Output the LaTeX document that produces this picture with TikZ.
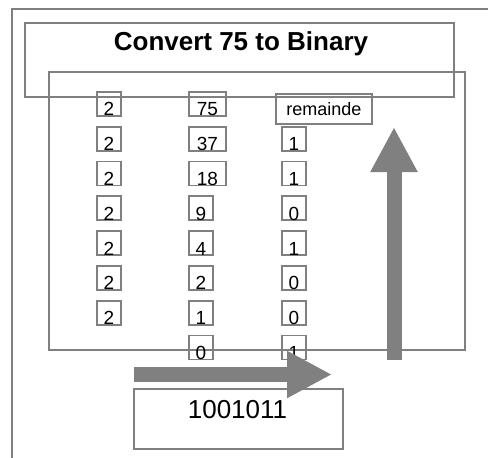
\documentclass[tikz,border=0pt]{standalone}
\usepackage{fontspec}
\setmainfont{Liberation Sans}
\usetikzlibrary{arrows.meta}

\begin{document}
\begin{tikzpicture}[x=1pt,y=-1pt,
  frame/.style={draw=gray,line width=1.8pt},
  numbox/.style={frame,inner sep=0pt,minimum width=24pt,text height=24pt,text depth=0pt,anchor=north west,font=\fontsize{19}{19}\selectfont},
  widebox/.style={numbox,minimum width=37pt},
  fatarrow/.style={draw=gray,line width=15pt,-{Triangle[length=45pt,width=44pt]}}]
\useasboundingbox (0,0) rectangle (488,458);
\clip (0,0) rectangle (488,458);
% frames
\draw[frame] (12,9) rectangle (495,465);
\node[frame,anchor=north west,minimum width=429pt,minimum height=74pt,inner sep=0pt] (titlebox) at (24,22) {};
\node[anchor=base,font=\bfseries\fontsize{26}{26}\selectfont] (title) at (241,50) {Convert 75 to Binary};
\draw[frame] (49,72) rectangle (465,350);
% divisor column
\foreach \i in {1,...,7}
  \node[numbox] (div\i) at (96,{91+34.8*(\i-1)}) {2};
% quotients
\foreach \q/\sty [count=\i] in {75/widebox,37/widebox,18/widebox,9/numbox,4/numbox,2/numbox,1/numbox,0/numbox}
  \node[\sty] (quot\i) at (188,{91+34.8*(\i-1)}) {\q};
% remainders
\node[frame,anchor=north west,minimum width=96pt,minimum height=30pt,inner sep=0pt,font=\fontsize{18}{18}\selectfont] (remhead) at (275,93) {remainde};
\foreach \r [count=\i from 2] in {1,1,0,1,0,0,1}
  \node[numbox] (rem\i) at (281,{91+34.8*(\i-1)}) {\r};
% result
\node[frame,anchor=north west,minimum width=209pt,minimum height=60pt,inner sep=0pt] (resultbox) at (133,388) {};
\node[anchor=base,font=\fontsize{26}{26}\selectfont] (result) at (237.5,418) {1001011};
% arrows
\coordinate (hstart) at (134,374.5);
\coordinate (hend) at (332,374.5);
\coordinate (vstart) at (394,360);
\coordinate (vend) at (394,127);
\draw[fatarrow] (hstart) -- (hend);
\draw[fatarrow] (vstart) -- (vend);
\end{tikzpicture}
\end{document}
